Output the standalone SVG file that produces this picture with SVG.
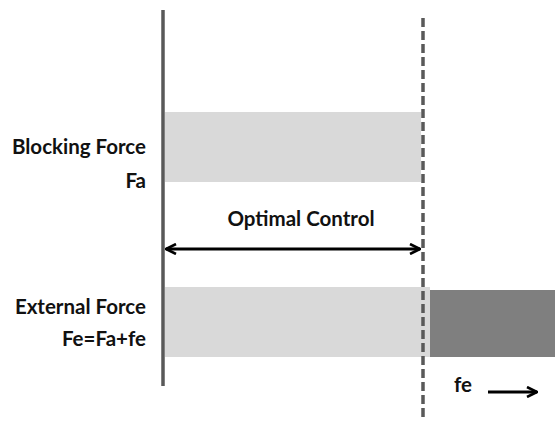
<svg xmlns="http://www.w3.org/2000/svg" width="555" height="421" viewBox="0 0 555 421">
<style>
.lbl{font-family:Lato,"Open Sans",sans-serif;font-weight:bold;font-size:20.5px;fill:#111}
.bar{fill:#d9d9d9}
</style>
<defs>
<marker id="ah" viewBox="0 0 12 12" refX="11" refY="6" markerWidth="12" markerHeight="12" markerUnits="userSpaceOnUse" orient="auto-start-reverse">
<path d="M1,1 L11,6 L1,11" fill="none" stroke="#000" stroke-width="2.6"/>
</marker>
</defs>
<rect width="555" height="421" fill="#fff"/>
<g id="blocking-bar"><rect class="bar" x="165" y="112" width="256" height="70"/></g>
<g id="external-bar"><rect class="bar" x="165" y="287" width="265" height="70"/></g>
<g id="fe-bar"><rect x="430" y="290" width="125" height="67" fill="#7f7f7f"/></g>
<g id="boundary"><line x1="163" y1="10" x2="163" y2="386" stroke="#595959" stroke-width="3.5"/></g>
<g id="limit"><line x1="423" y1="18" x2="423" y2="421" stroke="#595959" stroke-width="3.5" stroke-dasharray="9,4"/></g>
<g id="label-blocking">
<text class="lbl" x="146" y="154" text-anchor="end">Blocking Force</text>
<text class="lbl" x="146" y="188" text-anchor="end">Fa</text>
</g>
<g id="label-external">
<text class="lbl" x="146" y="314" text-anchor="end">External Force</text>
<text class="lbl" x="146" y="346" text-anchor="end">Fe=Fa+fe</text>
</g>
<g id="label-optimal"><text class="lbl" x="301" y="226" text-anchor="middle">Optimal Control</text></g>
<g id="label-fe"><text class="lbl" x="454" y="392">fe</text></g>
<g id="connectors">
<line x1="166" y1="249" x2="420" y2="249" stroke="#000" stroke-width="3" marker-start="url(#ah)" marker-end="url(#ah)"/>
<line x1="488" y1="392" x2="537" y2="392" stroke="#000" stroke-width="3" marker-end="url(#ah)"/>
</g>
</svg>
